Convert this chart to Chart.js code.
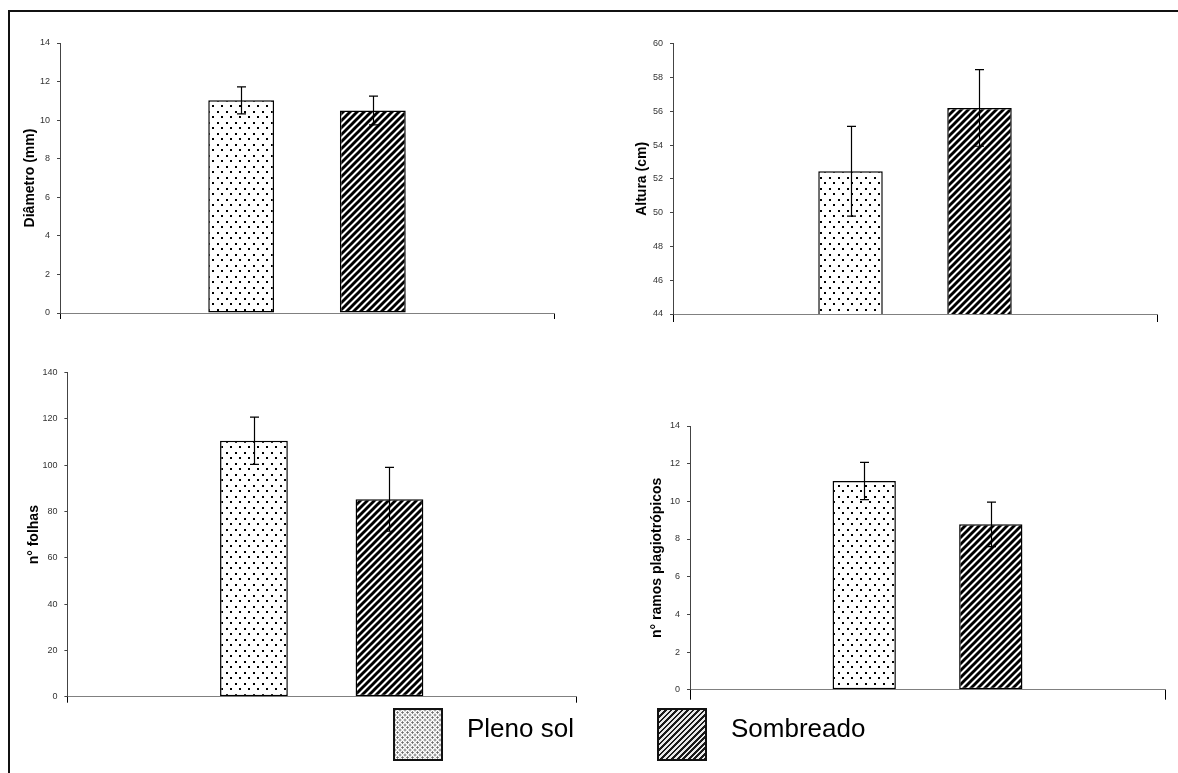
<!DOCTYPE html>
<html lang="pt">
<head>
<meta charset="utf-8">
<title>Crescimento de mudas: pleno sol x sombreado</title>
<script src="https://cdn.jsdelivr.net/npm/chart.js@4.4.1/dist/chart.umd.min.js"></script>
<style>
  html, body { margin: 0; padding: 0; background: #fff; overflow: hidden; }
  #page { position: relative; width: 1178px; height: 773px; }
  #page canvas.plot { position: absolute; left: 0; top: 0; }
  #frame { position: absolute; left: 8px; top: 10px; width: 1200px; height: 800px;
           border-top: 2px solid #111; border-left: 2px solid #111; box-sizing: border-box; }
  .swatch { position: absolute; top: 708px; width: 50px; height: 53px;
            box-sizing: border-box; border: 2px solid #111; }
  #sw-sol { left: 393px;
            background-color: #fff;
            background-image: radial-gradient(circle, #6a6a6a 0.9px, transparent 1.3px),
                              radial-gradient(circle, #6a6a6a 0.9px, transparent 1.3px);
            background-size: 5px 5px, 5px 5px;
            background-position: 0 0, 2.5px 2.5px; }
  #sw-sombra { left: 657px;
            background: repeating-linear-gradient(135deg, #1a1a1a 0 2px, #e8e8e8 2px 3.9px); }
  .leg-text { position: absolute; top: 713px; font: 26px/30px "Liberation Sans", Arial, sans-serif;
              color: #000; white-space: nowrap; }
</style>
</head>
<body>
<div id="page">
  <div id="frame"></div>
  <canvas class="plot" id="c-diametro" width="1178" height="773"></canvas>
  <canvas class="plot" id="c-altura" width="1178" height="773"></canvas>
  <canvas class="plot" id="c-folhas" width="1178" height="773"></canvas>
  <canvas class="plot" id="c-ramos" width="1178" height="773"></canvas>
  <div class="swatch" id="sw-sol"></div>
  <div class="leg-text" id="lt-sol" style="left:467px"></div>
  <div class="swatch" id="sw-sombra"></div>
  <div class="leg-text" id="lt-sombra" style="left:731px"></div>
</div>
<script>
// Tratamentos (legenda)
const GROUPS = ['Pleno sol', 'Sombreado'];

// Médias e erros de cada variável, na ordem de GROUPS
const DIAMETRO = [11.03, 10.50];
const DIAMETRO_ERR = [0.70, 0.75];
const ALTURA = [52.45, 56.20];
const ALTURA_ERR = [2.66, 2.27];
const FOLHAS = [110.6, 85.3];
const FOLHAS_ERR = [10.2, 13.8];
const RAMOS = [11.08, 8.78];
const RAMOS_ERR = [0.99, 1.18];

// Marcas do eixo Y de cada gráfico
const DIAMETRO_TICKS = [0, 2, 4, 6, 8, 10, 12, 14];
const ALTURA_TICKS = [44, 46, 48, 50, 52, 54, 56, 58, 60];
const FOLHAS_TICKS = [0, 20, 40, 60, 80, 100, 120, 140];
const RAMOS_TICKS = [0, 2, 4, 6, 8, 10, 12, 14];

// Títulos dos eixos Y
const Y_TITLES = ['Diâmetro (mm)', 'Altura (cm)', 'n° folhas', 'n° ramos plagiotrópicos'];

document.getElementById('lt-sol').textContent = GROUPS[0];
document.getElementById('lt-sombra').textContent = GROUPS[1];

const FONT = '"Liberation Sans", Arial, sans-serif';

// Preenchimento pontilhado (pleno sol)
function dotPattern() {
  const c = document.createElement('canvas');
  c.width = 9; c.height = 11;
  const g = c.getContext('2d');
  g.fillStyle = '#fff'; g.fillRect(0, 0, 9, 11);
  g.fillStyle = '#000';
  g.fillRect(1, 1, 2, 2);
  g.fillRect(5, 6, 2, 2);
  return g.createPattern(c, 'repeat');
}

// Preenchimento hachurado diagonal (sombreado)
function hatchPattern() {
  const s = 7;
  const c = document.createElement('canvas');
  c.width = s; c.height = s;
  const g = c.getContext('2d');
  g.fillStyle = '#fff'; g.fillRect(0, 0, s, s);
  g.strokeStyle = '#000'; g.lineWidth = 2.9;
  g.beginPath();
  for (const k of [-s, 0, s]) {
    g.moveTo(k - 1, s + 1);
    g.lineTo(k + s + 1, -1);
  }
  g.stroke();
  return g.createPattern(c, 'repeat');
}

const DOTS = dotPattern();
const HATCH = hatchPattern();

// Barras de erro (+/-) desenhadas sobre as colunas
const errorBars = {
  id: 'errorBars',
  afterDatasetsDraw(chart) {
    const ctx = chart.ctx;
    const yScale = chart.scales.y;
    chart.data.datasets.forEach((ds, i) => {
      const meta = chart.getDatasetMeta(i);
      meta.data.forEach((bar, j) => {
        const v = ds.data[j];
        const e = ds.errorBars[j];
        const x = Math.round(bar.x) + 0.5;
        const top = yScale.getPixelForValue(v + e);
        const bot = yScale.getPixelForValue(v - e);
        ctx.save();
        ctx.strokeStyle = '#000';
        ctx.lineWidth = 1.2;
        ctx.beginPath();
        ctx.moveTo(x, top); ctx.lineTo(x, bot);
        ctx.moveTo(x - 4.5, top); ctx.lineTo(x + 4.5, top);
        ctx.moveTo(x - 4.5, bot); ctx.lineTo(x + 4.5, bot);
        ctx.stroke();
        ctx.restore();
      });
    });
  }
};

function makePanel(id, values, errors, ticks, title, box) {
  const yMin = ticks[0];
  const yMax = ticks[ticks.length - 1];
  const step = ticks[1] - ticks[0];
  return new Chart(document.getElementById(id), {
    type: 'bar',
    data: {
      labels: [''],
      datasets: GROUPS.map((g, i) => ({
        label: g,
        data: [values[i]],
        errorBars: [errors[i]],
        backgroundColor: i === 0 ? DOTS : HATCH,
        borderColor: '#000',
        borderWidth: 1.5,
        borderSkipped: false,
        categoryPercentage: 0.533,
        barPercentage: 0.5
      }))
    },
    options: {
      responsive: false,
      animation: false,
      events: [],
      layout: { padding: box.padding },
      plugins: { legend: { display: false }, tooltip: { enabled: false } },
      scales: {
        x: {
          grid: { display: true, drawOnChartArea: false, drawTicks: true,
                  tickLength: box.xTick, color: '#000', lineWidth: 1 },
          border: { display: true, color: '#808080', width: 1 },
          ticks: { display: false },
          afterFit(s) { s.height = 10; }
        },
        y: {
          min: yMin, max: yMax,
          grid: { display: true, drawOnChartArea: false, drawTicks: true,
                  tickLength: 3, color: '#444', lineWidth: 1 },
          border: { display: true, color: '#444', width: 1 },
          ticks: {
            stepSize: step, padding: 7, color: '#333',
            font: { family: FONT, size: 9 }
          },
          title: {
            display: true, text: title, color: '#000',
            padding: { top: 0, bottom: 0 },
            font: { family: FONT, size: 14, weight: 'bold', lineHeight: 1.2 }
          },
          afterFit(s) { s.width = box.yWidth; }
        }
      }
    },
    plugins: [errorBars]
  });
}

// Posição de cada painel na página (área interna dos eixos)
makePanel('c-diametro', DIAMETRO, DIAMETRO_ERR, DIAMETRO_TICKS, Y_TITLES[0],
  { padding: { left: 21.6, top: 43, right: 624, bottom: 450 }, yWidth: 38.4, xTick: 6 });
makePanel('c-altura', ALTURA, ALTURA_ERR, ALTURA_TICKS, Y_TITLES[1],
  { padding: { left: 633.4, top: 43.7, right: 21, bottom: 449 }, yWidth: 39.6, xTick: 8 });
makePanel('c-folhas', FOLHAS, FOLHAS_ERR, FOLHAS_TICKS, Y_TITLES[2],
  { padding: { left: 25.6, top: 372.7, right: 602, bottom: 66.3 }, yWidth: 41.8, xTick: 6 });
makePanel('c-ramos', RAMOS, RAMOS_ERR, RAMOS_TICKS, Y_TITLES[3],
  { padding: { left: 648.3, top: 426, right: 13, bottom: 73.3 }, yWidth: 41.7, xTick: 10 });
</script>
</body>
</html>
